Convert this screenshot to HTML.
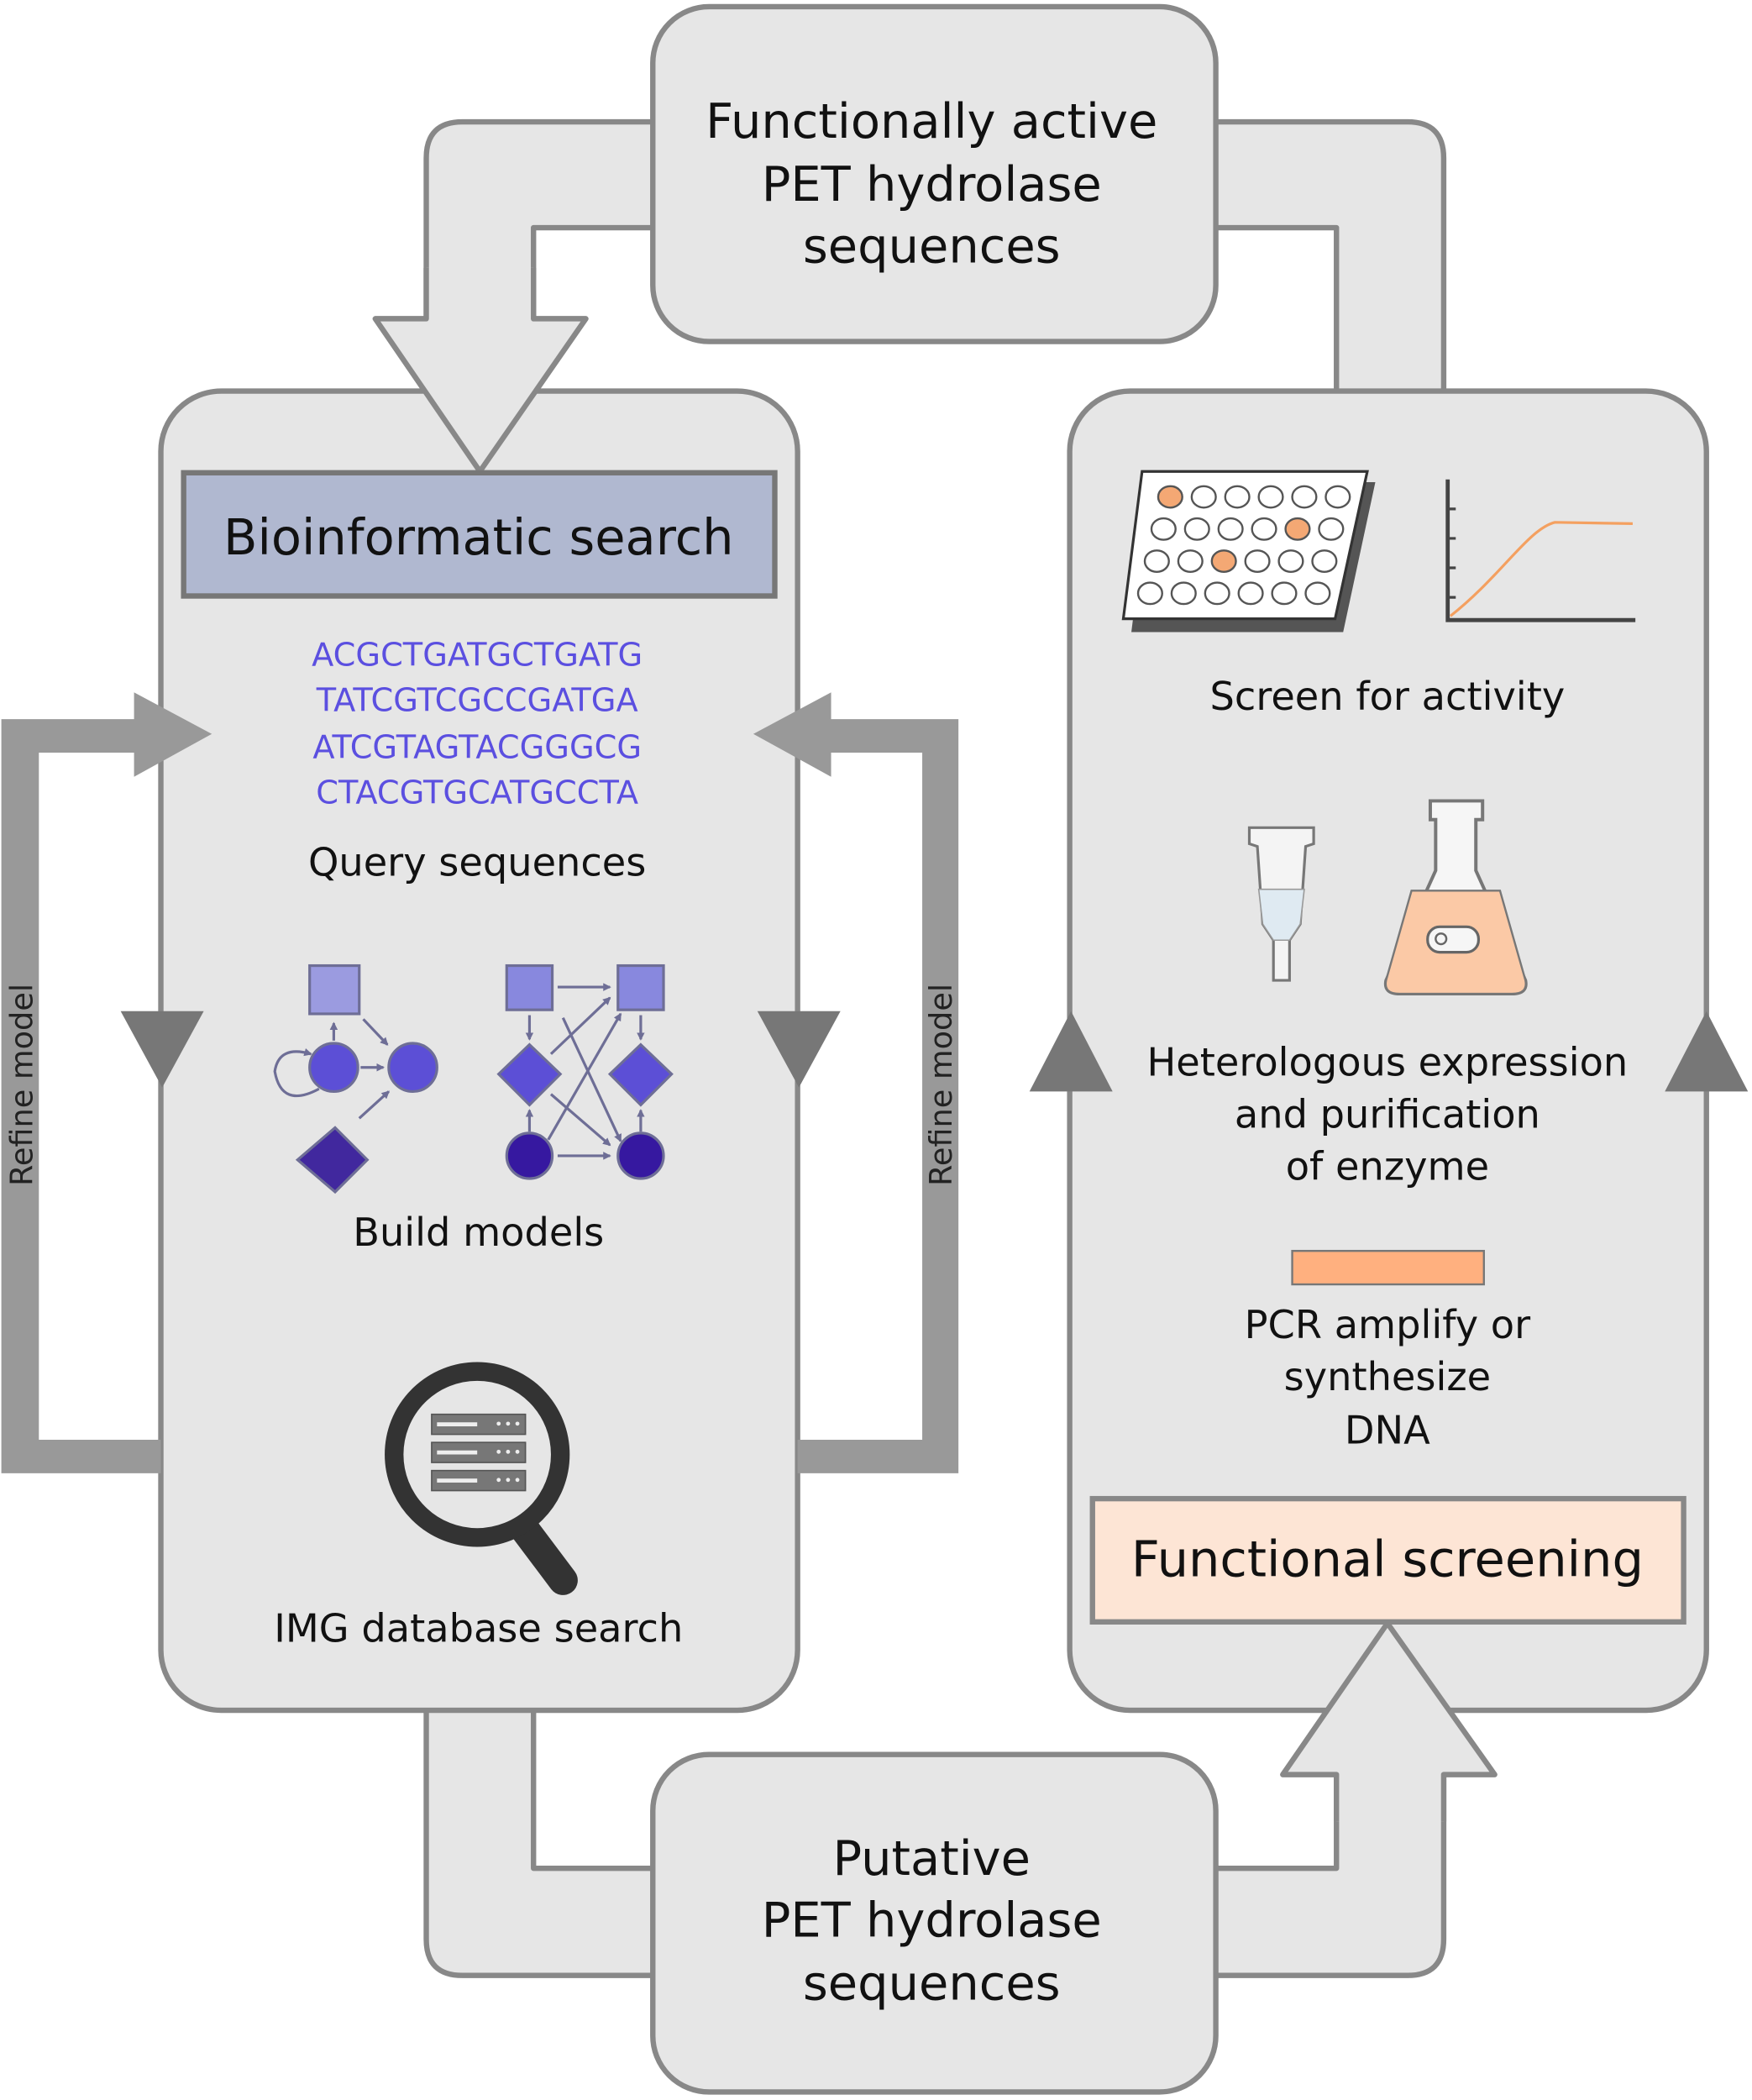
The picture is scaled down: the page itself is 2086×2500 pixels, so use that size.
<!DOCTYPE html>
<html><head><meta charset="utf-8"><style>
html,body{margin:0;padding:0;background:#fff;}
svg{display:block;}
text{font-family:"DejaVu Sans","Liberation Sans",sans-serif;}
</style></head><body>
<svg width="2086" height="2500" viewBox="0 0 1307 1568" preserveAspectRatio="none" xmlns="http://www.w3.org/2000/svg">
<defs>
<marker id="ah" markerWidth="6" markerHeight="6" refX="5" refY="3" orient="auto" markerUnits="userSpaceOnUse"><path d="M0,0 L6,3 L0,6z" fill="#6e6e96"/></marker>
</defs>
<g stroke="#888" stroke-width="4" fill="#e6e6e6" stroke-linejoin="round">
<!-- top band -->
<path d="M1077,300 L1077,118 Q1077,91 1050,91 L880,91 L880,170 L997,170 L997,300 Z"/>
<path d="M520,91 L345,91 Q318,91 318,118 L318,238 L280,238 L358,352 L437,238 L398,238 L398,170 L520,170 Z"/>
<!-- bottom band -->
<path d="M318,1260 L318,1448 Q318,1475 345,1475 L520,1475 L520,1395 L398,1395 L398,1260 Z"/>
<path d="M880,1475 L1050,1475 Q1077,1475 1077,1448 L1077,1325 L1115,1325 L1035,1212 L957,1325 L997,1325 L997,1395 L880,1395 Z"/>
<!-- panels -->
<rect x="120" y="292" width="475" height="985" rx="45"/>
<rect x="798" y="292" width="475" height="985" rx="45"/>
<!-- arrowheads over panels -->
<path d="M318,200 L318,238 L280,238 L358,352 L437,238 L398,238 L398,200 Z" stroke="none"/>
<path d="M318,200 L318,238 L280,238 L358,352 L437,238 L398,238 L398,200" fill="none"/>
<path d="M997,1360 L997,1325 L957,1325 L1035,1212 L1115,1325 L1077,1325 L1077,1360 Z" stroke="none"/>
<path d="M997,1360 L997,1325 L957,1325 L1035,1212 L1115,1325 L1077,1325 L1077,1360" fill="none"/>
<rect x="487" y="5" width="420" height="250" rx="42"/>
<rect x="487" y="1310" width="420" height="252" rx="42"/>
</g>
<!-- refine model -->
<g fill="#999">
<path d="M1,537 L100,537 L100,517 L158,548 L100,580 L100,562 L29,562 L29,1075 L120,1075 L120,1100 L1,1100 Z"/>
<path d="M715,537 L620,537 L620,517 L562,548 L620,580 L620,562 L688,562 L688,1075 L595,1075 L595,1100 L715,1100 Z"/>
</g>
<g fill="#777">
<path d="M90,755 L152,755 L121,812 Z"/>
<path d="M565,755 L627,755 L596,812 Z"/>
<path d="M768,815 L830,815 L799,755 Z"/>
<path d="M1242,815 L1304,815 L1273,755 Z"/>
</g>
<text transform="translate(24,810) rotate(-90)" font-size="23" fill="#222" text-anchor="middle">Refine model</text>
<text transform="translate(710,810) rotate(-90)" font-size="23" fill="#222" text-anchor="middle">Refine model</text>
<g font-size="36" fill="#111" text-anchor="middle">
<text x="695" y="103">Functionally active</text>
<text x="695" y="150">PET hydrolase</text>
<text x="695" y="196">sequences</text>
<text x="695" y="1400">Putative</text>
<text x="695" y="1446">PET hydrolase</text>
<text x="695" y="1493">sequences</text>
</g>
<rect x="137" y="353" width="441" height="92" fill="#b0b8d0" stroke="#777" stroke-width="4"/>
<text x="357" y="414" font-size="37" fill="#111" text-anchor="middle">Bioinformatic search</text>
<rect x="815" y="1119" width="441" height="92" fill="#fde5d5" stroke="#888" stroke-width="4"/>
<text x="1035" y="1177" font-size="37" fill="#111" text-anchor="middle">Functional screening</text>
<g font-size="24" fill="#5b4fe0" text-anchor="middle">
<text x="356" y="497">ACGCTGATGCTGATG</text>
<text x="356" y="531">TATCGTCGCCGATGA</text>
<text x="356" y="566">ATCGTAGTACGGGCG</text>
<text x="356" y="600">CTACGTGCATGCCTA</text>
</g>
<g font-size="29" fill="#111" text-anchor="middle">
<text x="356" y="654">Query sequences</text>
<text x="357" y="930">Build models</text>
<text x="357" y="1226">IMG database search</text>
<text x="1035" y="530">Screen for activity</text>
<text x="1035" y="803">Heterologous expression</text>
<text x="1035" y="842">and purification</text>
<text x="1035" y="881">of enzyme</text>
<text x="1035" y="999">PCR amplify or</text>
<text x="1035" y="1038">synthesize</text>
<text x="1035" y="1078">DNA</text>
</g>
<g stroke="#6e6e96" stroke-width="2">
<rect x="231" y="721" width="37" height="36" fill="#9b9be0"/>
<circle cx="249" cy="797" r="18" fill="#5c4fd6"/>
<circle cx="308" cy="797" r="18" fill="#5c4fd6"/>
<path d="M250,842 L274,866 L250,890 L222,866 Z" fill="#41289e"/>
<line x1="249" y1="777" x2="249" y2="764" marker-end="url(#ah)"/>
<line x1="271" y1="761" x2="289" y2="780" marker-end="url(#ah)"/>
<line x1="269" y1="797" x2="286" y2="797" marker-end="url(#ah)"/>
<line x1="268" y1="835" x2="290" y2="815" marker-end="url(#ah)"/>
<path d="M238,813 Q210,828 205,800 Q208,780 232,787" fill="none" marker-end="url(#ah)"/>
<rect x="378" y="721" width="34" height="33" fill="#8888de"/>
<rect x="461" y="721" width="34" height="33" fill="#8888de"/>
<path d="M395,780 L418,802 L395,825 L372,802 Z" fill="#5c4fd6"/>
<path d="M478,780 L501,802 L478,825 L455,802 Z" fill="#5c4fd6"/>
<circle cx="395" cy="863" r="17" fill="#3618a0"/>
<circle cx="478" cy="863" r="17" fill="#3618a0"/>
<g fill="none">
<line x1="416" y1="737" x2="455" y2="737" marker-end="url(#ah)"/>
<line x1="416" y1="863" x2="455" y2="863" marker-end="url(#ah)"/>
<line x1="395" y1="758" x2="395" y2="776" marker-end="url(#ah)"/>
<line x1="478" y1="758" x2="478" y2="776" marker-end="url(#ah)"/>
<line x1="395" y1="845" x2="395" y2="829" marker-end="url(#ah)"/>
<line x1="478" y1="845" x2="478" y2="829" marker-end="url(#ah)"/>
<line x1="411" y1="787" x2="455" y2="745" marker-end="url(#ah)"/>
<line x1="411" y1="817" x2="455" y2="855" marker-end="url(#ah)"/>
<line x1="409" y1="851" x2="463" y2="757" marker-end="url(#ah)"/>
<line x1="420" y1="760" x2="463" y2="852" marker-end="url(#ah)"/>
</g>
</g>
<g>
<line x1="390" y1="1140" x2="420" y2="1180" stroke="#333" stroke-width="22" stroke-linecap="round"/>
<circle cx="356" cy="1086" r="62" fill="#e6e6e6" stroke="#333" stroke-width="14"/>
<g fill="#777" stroke="#555" stroke-width="1">
<rect x="322" y="1056" width="70" height="15"/>
<rect x="322" y="1077" width="70" height="15"/>
<rect x="322" y="1098" width="70" height="15"/>
</g>
<g fill="#eee"><rect x="326" y="1062" width="30" height="3"/><rect x="326" y="1083" width="30" height="3"/><rect x="326" y="1104" width="30" height="3"/>
<circle cx="372" cy="1063" r="1.5"/><circle cx="379" cy="1063" r="1.5"/><circle cx="386" cy="1063" r="1.5"/>
<circle cx="372" cy="1084" r="1.5"/><circle cx="379" cy="1084" r="1.5"/><circle cx="386" cy="1084" r="1.5"/>
<circle cx="372" cy="1105" r="1.5"/><circle cx="379" cy="1105" r="1.5"/><circle cx="386" cy="1105" r="1.5"/></g>
</g>
<path d="M858,360 L1026,360 L1002,472 L844,472 Z" fill="#555"/>
<path d="M852,352 L1020,352 L996,462 L838,462 Z" fill="#fff" stroke="#333" stroke-width="2"/>
<g fill="#fff" stroke="#555" stroke-width="1.5">
<ellipse cx="873" cy="371" rx="9" ry="8" fill="#f4a874"/><ellipse cx="898" cy="371" rx="9" ry="8"/><ellipse cx="923" cy="371" rx="9" ry="8"/><ellipse cx="948" cy="371" rx="9" ry="8"/><ellipse cx="973" cy="371" rx="9" ry="8"/><ellipse cx="998" cy="371" rx="9" ry="8"/>
<ellipse cx="868" cy="395" rx="9" ry="8"/><ellipse cx="893" cy="395" rx="9" ry="8"/><ellipse cx="918" cy="395" rx="9" ry="8"/><ellipse cx="943" cy="395" rx="9" ry="8"/><ellipse cx="968" cy="395" rx="9" ry="8" fill="#f4a874"/><ellipse cx="993" cy="395" rx="9" ry="8"/>
<ellipse cx="863" cy="419" rx="9" ry="8"/><ellipse cx="888" cy="419" rx="9" ry="8"/><ellipse cx="913" cy="419" rx="9" ry="8" fill="#f4a874"/><ellipse cx="938" cy="419" rx="9" ry="8"/><ellipse cx="963" cy="419" rx="9" ry="8"/><ellipse cx="988" cy="419" rx="9" ry="8"/>
<ellipse cx="858" cy="443" rx="9" ry="8"/><ellipse cx="883" cy="443" rx="9" ry="8"/><ellipse cx="908" cy="443" rx="9" ry="8"/><ellipse cx="933" cy="443" rx="9" ry="8"/><ellipse cx="958" cy="443" rx="9" ry="8"/><ellipse cx="983" cy="443" rx="9" ry="8"/>
</g>
<g stroke="#444" stroke-width="3" fill="none">
<path d="M1080,358 L1080,463 L1220,463"/>
<path d="M1080,380 h6 M1080,402 h6 M1080,424 h6 M1080,446 h6" stroke-width="2"/>
</g>
<path d="M1082,460 C1120,430 1140,395 1160,390 L1218,391" stroke="#f4a060" stroke-width="2" fill="none"/>
<path d="M932,618 L980,618 L980,630 L974,632 L970,690 L962,702 L962,732 L950,732 L950,702 L942,690 L938,632 L932,630 Z" fill="#f4f4f4" stroke="#777" stroke-width="2"/>
<path d="M939,664 L973,664 L970,690 L962,702 L950,702 L942,690 Z" fill="#dfeaf2" stroke="#999" stroke-width="1"/>
<path d="M1067,598 L1106,598 L1106,612 L1101,612 L1101,650 L1138,732 Q1140,742 1128,742 L1044,742 Q1032,742 1034,732 L1071,650 L1071,612 L1067,612 Z" fill="#f6f6f6" stroke="#777" stroke-width="2.5"/>
<path d="M1053,665 L1119,665 L1138,732 Q1140,742 1128,742 L1044,742 Q1032,742 1034,732 Z" fill="#fbc9a6" stroke="#777" stroke-width="1.5"/>
<rect x="1065" y="692" width="38" height="19" rx="9" fill="#f6f6f6" stroke="#666" stroke-width="2"/>
<circle cx="1075" cy="701" r="4" fill="none" stroke="#666" stroke-width="1.5"/>
<rect x="964" y="934" width="143" height="25" fill="#ffb07f" stroke="#777" stroke-width="1.5"/>
</svg>
</body></html>
